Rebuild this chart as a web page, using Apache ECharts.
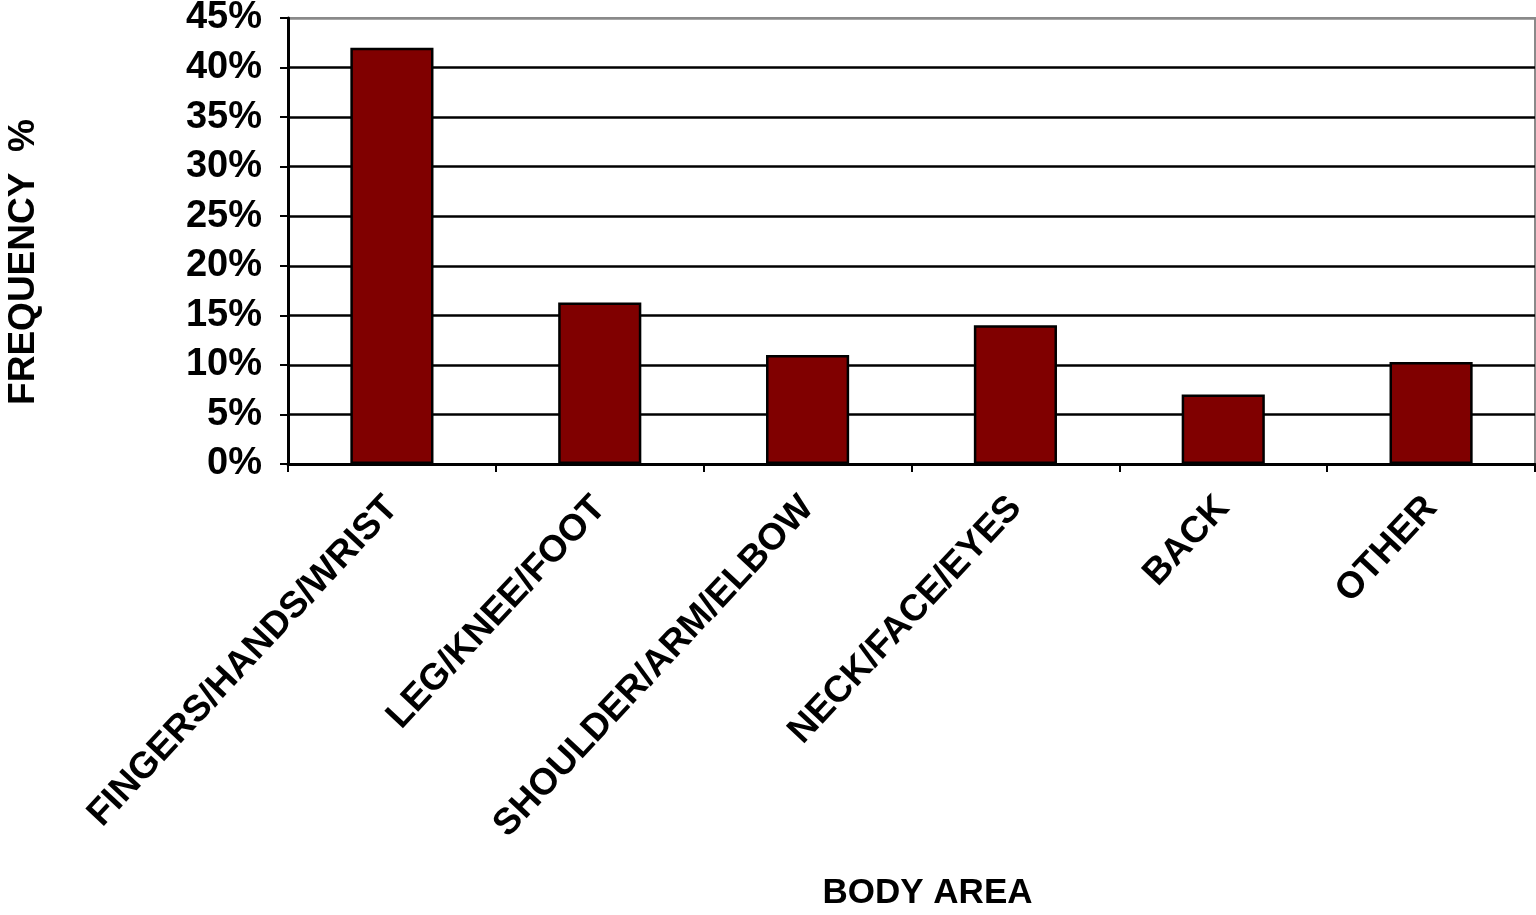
<!DOCTYPE html>
<html>
<head>
<meta charset="utf-8">
<script src="https://cdn.jsdelivr.net/npm/echarts@6/dist/echarts.min.js"></script>
<style>
  html, body { margin: 0; padding: 0; background: #fff; }
  #chart { width: 1536px; height: 915px; }
</style>
</head>
<body>
<div id="chart"></div>
<script>
  const bodyAreas = ["FINGERS/HANDS/WRIST", "LEG/KNEE/FOOT", "SHOULDER/ARM/ELBOW", "NECK/FACE/EYES", "BACK", "OTHER"];
  const frequency = [42, 16.3, 11, 14, 7, 10.3];
  const yTicks = { min: 0, max: 45, interval: 5 };

  const font = "'Liberation Sans', Arial, sans-serif";
  const myChart = echarts.init(document.getElementById("chart"));

  // the top (45%) line is the grey frame, the rest are black
  const lineColors = ["#000", "#000", "#000", "#000", "#000", "#000", "#000", "#000", "#000", "#8a8a8a"];

  const option = {
    animation: false,
    grid: {
      left: 288,
      right: 1,
      top: 18,
      bottom: 451,
      containLabel: false,
      outerBoundsMode: "none",
      show: true,
      borderColor: "#8a8a8a",
      borderWidth: 2,
    },
    xAxis: {
      type: "category",
      data: bodyAreas,
      name: "BODY AREA",
      nameLocation: "middle",
      nameGap: 412,
      nameTextStyle: {
        fontFamily: font,
        fontWeight: "bold",
        fontSize: 35,
        color: "#000",
        padding: [0, 0, 0, 32],
      },
      axisLine: { lineStyle: { color: "#000", width: 3 } },
      axisTick: { show: true, length: 8, lineStyle: { color: "#000", width: 2 } },
      axisLabel: {
        rotate: 47,
        interval: 0,
        margin: 38,
        fontFamily: font,
        fontWeight: "bold",
        fontSize: 37,
        color: "#000",
      },
    },
    yAxis: {
      type: "value",
      min: yTicks.min,
      max: yTicks.max,
      interval: yTicks.interval,
      name: "FREQUENCY  %",
      nameLocation: "middle",
      nameGap: 246,
      nameRotate: 90,
      nameTextStyle: {
        fontFamily: font,
        fontWeight: "bold",
        fontSize: 37,
        color: "#000",
        padding: [0, 42, 0, 0],
      },
      axisLine: { show: true, lineStyle: { color: "#000", width: 3 } },
      axisTick: { show: true, length: 8, lineStyle: { color: "#000", width: 2 } },
      axisLabel: {
        margin: 26,
        formatter: "{value}%",
        fontFamily: font,
        fontWeight: "bold",
        fontSize: 38,
        color: "#000",
      },
      splitLine: { lineStyle: { color: lineColors, width: 2.5 } },
    },
    series: [
      {
        name: "Frequency",
        type: "bar",
        data: frequency,
        barCategoryGap: "60%",
        itemStyle: {
          color: "#800000",
          borderColor: "#000",
          borderWidth: 2.5,
        },
      },
    ],
  };

  myChart.setOption(option);
</script>
</body>
</html>
